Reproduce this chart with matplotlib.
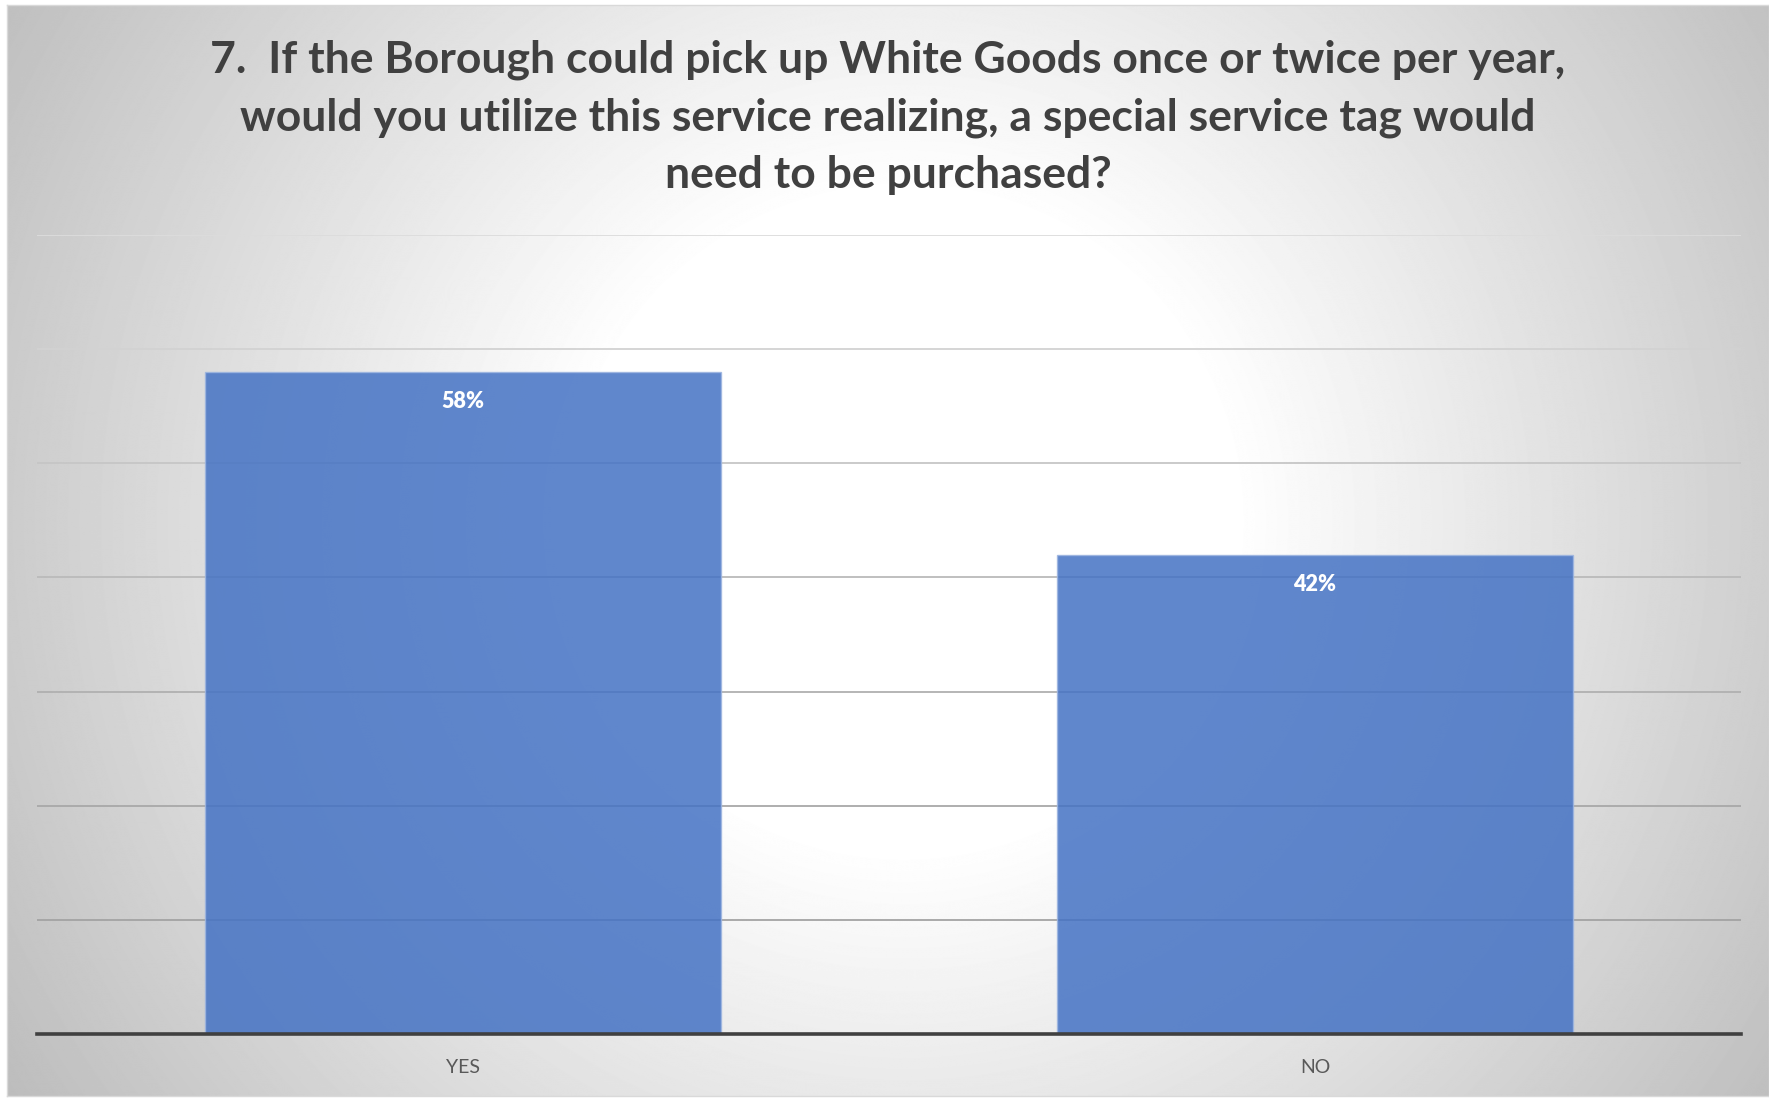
import numpy as np
import matplotlib
matplotlib.use("Agg")
import matplotlib.pyplot as plt

#########################
# data
#########################
categories = ["YES", "NO"]
shares = [58, 42]          # percent of respondents
title = ("7.  If the Borough could pick up White Goods once or twice per year,\n"
         "would you utilize this service realizing, a special service tag would\n"
         "need to be purchased?")

W, H = 1769, 1099
fig = plt.figure(figsize=(W / 100, H / 100), dpi=100, facecolor="white")

#########################
# radial grey background
#########################
bg = fig.add_axes([7 / W, 3 / H, (W - 7) / W, (H - 8) / H])
yy, xx = np.mgrid[0:H, 0:W]
dist = np.hypot(xx - 900, yy - 520)
shade = np.clip(255 - 0.09 * np.clip(dist - 330, 0, None), 0, 255) / 255.0
bg.imshow(shade, cmap="gray", vmin=0, vmax=1, aspect="auto", interpolation="bilinear")
bg.set_xticks([])
bg.set_yticks([])
for s in bg.spines.values():
    s.set_color("#d9d9d9")
    s.set_linewidth(1)

#########################
# bars
#########################
ax = fig.add_axes([37 / W, 0.0587, (1741 - 37) / W, 0.7277])
ax.patch.set_alpha(0)
x = np.arange(len(categories))
vals = np.array(shares) / 100.0

# gridlines get darker towards the bottom
grid_vals = np.arange(0.1, 0.71, 0.1)
grid_cols = ["#a3a3a3", "#a8a8a8", "#b0b0b0", "#bababa", "#c6c6c6", "#d2d2d2", "#dcdcdc"]
for g, c in zip(grid_vals, grid_cols):
    ax.axhline(g, color=c, lw=1.3, zorder=1)

bars = ax.bar(x, vals, width=0.605, color="#4472C4", alpha=0.85,
              edgecolor="#9db5e0", linewidth=1.0, zorder=2)
ax.axhline(0, color="#404040", lw=2.6, zorder=3, clip_on=False)

for xi, v, p in zip(x, vals, shares):
    ax.annotate("{}%".format(p), xy=(xi, v), xytext=(0, -30), textcoords="offset pixels",
                ha="center", va="center", color="white", fontsize=15.5,
                fontweight="heavy", family="Lato", zorder=4)

ax.set_xlim(-0.5, 1.5)
ax.set_ylim(0, 0.7)
ax.set_yticks([])
ax.set_xticks(x)
ax.set_xticklabels(categories, family="Lato", fontsize=14, color="#595959")
ax.tick_params(axis="x", length=0, pad=18)
for s in ax.spines.values():
    s.set_visible(False)

fig.text(0.502, 1 - 117 / H, title, ha="center", va="center", family="Lato",
         fontweight="bold", fontsize=32, color="#404040", linespacing=1.53)

fig.savefig("out.png", dpi=100, facecolor="white")
